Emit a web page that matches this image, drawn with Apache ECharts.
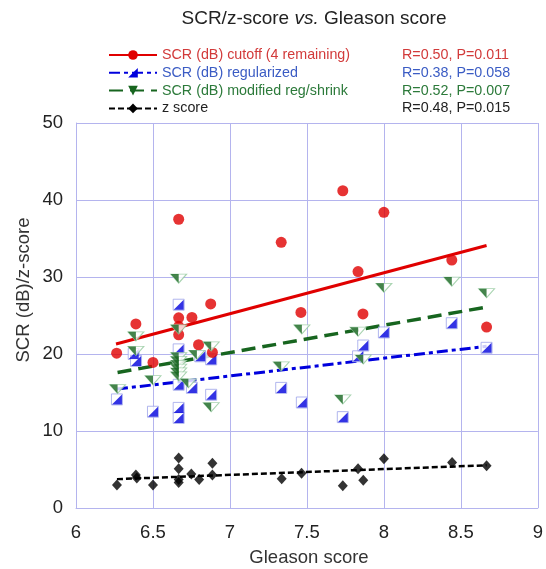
<!DOCTYPE html>
<html>
<head>
<meta charset="utf-8">
<script src="https://cdn.jsdelivr.net/npm/echarts@6/dist/echarts.min.js"></script>
<style>html,body{margin:0;padding:0;background:#fff}#c{width:546px;height:569px}</style>
</head>
<body>
<div id="c"></div>
<script>
// ---- data ----
const seriesNames = ['SCR (dB) cutoff (4 remaining)', 'SCR (dB) regularized', 'SCR (dB) modified reg/shrink', 'z score'];
const statLabels = ['R=0.50, P=0.011', 'R=0.38, P=0.058', 'R=0.52, P=0.007', 'R=0.48, P=0.015'];
const xTicks = [6, 6.5, 7, 7.5, 8, 8.5, 9];

const cutoffPts = [
  [6.264, 20.1], [6.389, 23.9], [6.5, 18.9], [6.667, 37.5], [6.667, 24.7], [6.667, 23.6], [6.667, 22.5],
  [6.753, 24.75], [6.796, 21.2], [6.875, 26.5], [6.886, 20.2], [7.333, 34.5], [7.461, 25.4],
  [7.733, 41.2], [7.832, 30.7], [7.864, 25.2], [8.0, 38.4], [8.441, 32.2], [8.667, 23.5]
];
const regularizedPts = [
  [6.266, 14.1], [6.375, 20.0], [6.39, 19.1], [6.5, 12.5], [6.667, 26.4], [6.667, 20.6], [6.667, 16.0],
  [6.667, 13.0], [6.667, 11.7], [6.753, 15.6], [6.807, 19.7], [6.878, 19.3], [6.878, 14.7],
  [7.333, 15.6], [7.467, 13.7], [7.733, 11.8], [7.832, 19.7], [7.866, 21.1], [8.0, 22.8],
  [8.441, 24.0], [8.667, 20.8]
];
const modifiedPts = [
  [6.27, 15.45], [6.389, 22.3], [6.389, 20.4], [6.5, 16.6], [6.667, 29.8], [6.667, 23.2],
  [6.667, 19.6], [6.667, 19.1], [6.667, 18.6], [6.667, 18.1], [6.667, 17.6], [6.667, 17.1],
  [6.73, 16.2], [6.785, 19.9], [6.878, 21.0], [6.878, 13.1], [7.333, 18.4], [7.467, 23.2],
  [7.733, 14.1], [7.832, 22.9], [7.866, 19.3], [8.0, 28.6], [8.441, 29.4], [8.667, 27.9]
];
const zScorePts = [
  [6.266, 3.0], [6.389, 4.3], [6.395, 3.9], [6.5, 3.0], [6.667, 6.5], [6.667, 5.1], [6.667, 3.7],
  [6.667, 3.3], [6.749, 4.4], [6.8, 3.7], [6.886, 5.8], [6.886, 4.3], [7.336, 3.8], [7.465, 4.5],
  [7.733, 2.9], [7.832, 5.1], [7.866, 3.6], [8.0, 6.4], [8.443, 5.9], [8.667, 5.5]
];
const cutoffFit = [[6.26, 21.3], [8.667, 34.1]];
const regularizedFit = [[6.266, 15.45], [8.667, 21.0]];
const modifiedFit = [[6.27, 17.6], [8.667, 26.1]];
const zScoreFit = [[6.266, 3.75], [8.667, 5.55]];

// ---- styles ----
const FONT = "'Liberation Sans', Arial, Helvetica, sans-serif";
const RED = '#e00000', BLUE = '#0000dd', GREEN = '#17651f', BLACK = '#000';
const textColors = ['#d23a3a', '#3b5cc4', '#2c7a3a', '#222'];
const GRIDC = '#b4b4ee';

const chart = echarts.init(document.getElementById('c'), null, {renderer: 'canvas'});

const fitLine = (name, data, color, type, width, symbol, symbolColor) => ({
  type: 'line', name, data, showSymbol: false, symbol, symbolSize: 10,
  lineStyle: {color, width, type}, itemStyle: {color: symbolColor || color},
  silent: true, z: 2, animation: false
});

const option = {
  animation: false,
  textStyle: {fontFamily: FONT},
  grid: {left: 76, right: 4, top: 123, bottom: 61, containLabel: false},
  xAxis: {
    type: 'value', min: xTicks[0], max: xTicks[xTicks.length - 1], interval: 0.5,
    axisLine: {show: true, lineStyle: {color: GRIDC, width: 1}},
    axisTick: {show: false},
    splitLine: {show: true, lineStyle: {color: GRIDC, width: 1}},
    axisLabel: {color: '#222', fontSize: 18.5, margin: 15, fontFamily: FONT,
      formatter: v => String(v)}
  },
  yAxis: {
    type: 'value', min: 0, max: 50, interval: 10,
    axisLine: {show: true, lineStyle: {color: GRIDC, width: 1}},
    axisTick: {show: false},
    splitLine: {show: true, lineStyle: {color: GRIDC, width: 1}},
    axisLabel: {color: '#222', fontSize: 18.5, margin: 13, fontFamily: FONT}
  },
  legend: {
    orient: 'vertical', left: 108, top: 48, padding: 0, itemWidth: 48, itemHeight: 12, itemGap: 3.8,
    selectedMode: false, textStyle: {fontSize: 14.3, fontFamily: FONT},
    data: seriesNames.map((n, i) => ({name: n, textStyle: {color: textColors[i]}}))
  },
  graphic: [
    {type: 'text', x: 314, y: 19, style: {
      text: '{a|SCR/z-score }{b|vs.}{a| Gleason score}', fill: '#222', align: 'center', verticalAlign: 'middle',
      rich: {a: {fontSize: 19, fontFamily: FONT, fill: '#222'}, b: {fontSize: 19, fontFamily: FONT, fontStyle: 'italic', fill: '#222'}}
    }},
    {type: 'text', x: 24, y: 290, rotation: Math.PI / 2, style: {
      text: 'SCR (dB)/z-score', fontSize: 18.5, fontFamily: FONT, fill: '#333', align: 'center', verticalAlign: 'middle'}},
    {type: 'text', x: 309, y: 558, style: {
      text: 'Gleason score', fontSize: 18.5, fontFamily: FONT, fill: '#333', align: 'center', verticalAlign: 'middle'}}
  ].concat(statLabels.map((t, i) => ({
    type: 'text', x: 402, y: 55 + i * 17.8, style: {
      text: t, fontSize: 14.3, fontFamily: FONT, fill: textColors[i], align: 'left', verticalAlign: 'middle'}
  }))),
  series: [
    fitLine(seriesNames[0], cutoffFit, RED, 'solid', 3, 'circle'),
    fitLine(seriesNames[1], regularizedFit, BLUE, [11, 4, 4, 4], 3, 'path://M1,0L1,1L0,1Z'),
    fitLine(seriesNames[2], modifiedFit, GREEN, [14, 7], 3.5, 'path://M0,0L2,0L1,1Z'),
    fitLine(seriesNames[3], zScoreFit, BLACK, [6, 3], 2.5, 'diamond'),
    {type: 'scatter', name: 'zpts', data: zScorePts, symbol: 'diamond', symbolSize: [10, 11],
      itemStyle: {color: BLACK}, z: 3},
    {type: 'scatter', name: 'regBase', data: regularizedPts, symbol: 'rect', symbolSize: 11,
      itemStyle: {color: '#fff', borderColor: '#9ea4ea', borderWidth: 1}, z: 3},
    {type: 'scatter', name: 'regFill', data: regularizedPts, symbol: 'path://M1,0L1,1L0,1Z', symbolSize: 10,
      itemStyle: {color: BLUE}, z: 3},
    {type: 'scatter', name: 'cutPts', data: cutoffPts, symbol: 'circle', symbolSize: 11,
      itemStyle: {color: RED}, z: 3},
    {type: 'scatter', name: 'modBase', data: modifiedPts, symbol: 'path://M0,0L2,0L1,1Z', symbolSize: [16, 9],
      itemStyle: {color: '#fff', borderColor: '#92c89c', borderWidth: 1}, z: 3},
    {type: 'scatter', name: 'modFill', data: modifiedPts, symbol: 'path://M0,0L1,0L1,1Z', symbolSize: [8, 9],
      symbolOffset: [-4, 0], itemStyle: {color: GREEN}, z: 3}
  ]
};
chart.setOption(option);
</script>
</body>
</html>
